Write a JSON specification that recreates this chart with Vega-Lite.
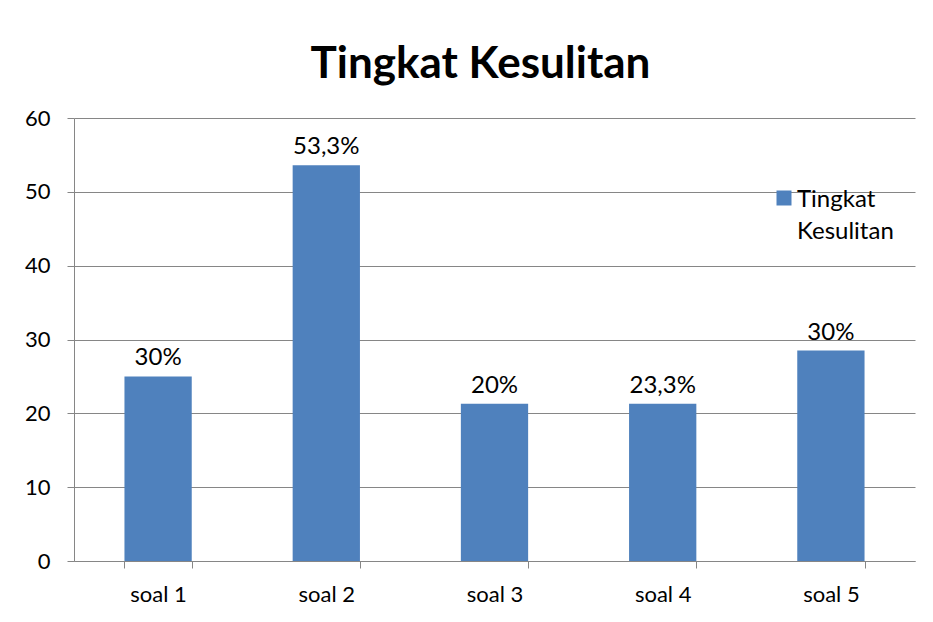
{
  "$schema": "https://vega.github.io/schema/vega-lite/v6.json",
  "width": 841,
  "height": 443,
  "autosize": {"type": "none"},
  "padding": {"left": 74, "top": 118, "right": 18, "bottom": 61},
  "background": "white",
  "config": {"view": {"stroke": null}, "font": "Lato"},
  "title": {
    "text": "Tingkat Kesulitan",
    "fontSize": 44,
    "font": "Lato",
    "fontWeight": "bold",
    "color": "black",
    "anchor": "middle",
    "offset": 20,
    "dx": -14
  },
  "data": {
    "values": [
      {"soal": "soal 1", "nilai": 25.0, "label": "30%"},
      {"soal": "soal 2", "nilai": 53.6, "label": "53,3%"},
      {"soal": "soal 3", "nilai": 21.3, "label": "20%"},
      {"soal": "soal 4", "nilai": 21.3, "label": "23,3%"},
      {"soal": "soal 5", "nilai": 28.5, "label": "30%"}
    ]
  },
  "encoding": {
    "x": {
      "field": "soal",
      "type": "nominal",
      "sort": null,
      "title": null,
      "scale": {"paddingInner": 0.6, "paddingOuter": 0.3},
      "axis": {
        "labelAngle": 0,
        "labelFontSize": 22,
        "labelFont": "Lato",
        "labelColor": "black",
        "labelPadding": 16,
        "domainColor": "#868686",
        "tickColor": "#868686",
        "tickSize": 7,
        "tickBand": "extent",
        "grid": false
      }
    },
    "y": {
      "field": "nilai",
      "type": "quantitative",
      "title": null,
      "scale": {"domain": [0, 60], "nice": false},
      "axis": {
        "values": [0, 10, 20, 30, 40, 50, 60],
        "labelFontSize": 22,
        "labelFont": "Lato",
        "labelColor": "black",
        "labelPadding": 17,
        "domainColor": "#868686",
        "tickColor": "#868686",
        "gridColor": "#868686",
        "gridOpacity": 1,
        "tickSize": 7
      }
    }
  },
  "layer": [
    {
      "mark": {"type": "bar"},
      "encoding": {
        "color": {
          "datum": "Tingkat Kesulitan",
          "scale": {"range": ["#4F81BD"]},
          "legend": {
            "title": null,
            "orient": "none",
            "legendX": 698,
            "legendY": 68,
            "symbolType": "square",
            "symbolSize": 225,
            "symbolStrokeWidth": 0,
            "labelFontSize": 24,
            "labelFont": "Lato",
            "labelColor": "black",
            "labelOffset": 1,
            "labelBaseline": "alphabetic",
            "labelExpr": "['Tingkat', 'Kesulitan']",
            "labelLimit": 200,
            "encode": {
              "labels": {
                "update": {
                  "dy": {"value": 9},
                  "lineHeight": {"value": 32}
                }
              }
            }
          }
        }
      }
    },
    {
      "mark": {"type": "text", "baseline": "bottom", "dy": -6, "fontSize": 24, "font": "Lato", "color": "black"},
      "encoding": {"text": {"field": "label"}}
    }
  ]
}
